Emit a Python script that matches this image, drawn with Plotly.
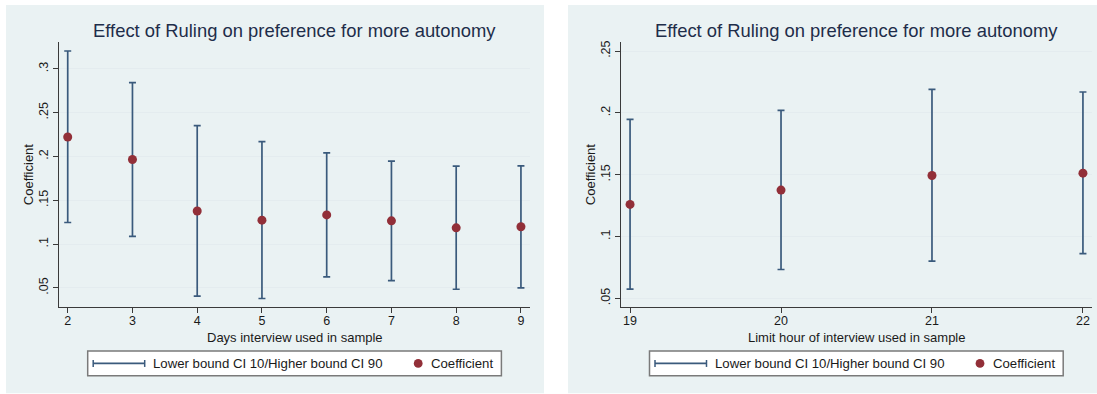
import plotly.graph_objects as go

# ---------------- data ----------------
days = [2, 3, 4, 5, 6, 7, 8, 9]
days_coef = [0.2223, 0.1966, 0.1378, 0.1273, 0.1333, 0.1265, 0.1185, 0.1197]
days_low = [0.1246, 0.1087, 0.0405, 0.0378, 0.0625, 0.0583, 0.0484, 0.0500]
days_high = [0.3205, 0.2844, 0.2352, 0.2170, 0.2041, 0.1947, 0.1890, 0.1892]

hours = [19, 20, 21, 22]
hours_coef = [0.1260, 0.1376, 0.1494, 0.1513]
hours_low = [0.0575, 0.0734, 0.0801, 0.0863]
hours_high = [0.1948, 0.2021, 0.2190, 0.2169]

left_yticks = [0.05, 0.10, 0.15, 0.20, 0.25, 0.30]
left_yticktext = [".05", ".1", ".15", ".2", ".25", ".3"]
right_yticks = [0.05, 0.10, 0.15, 0.20, 0.25]
right_yticktext = [".05", ".1", ".15", ".2", ".25"]

title_text = "Effect of Ruling on preference for more autonomy"
left_xtitle = "Days interview used in sample"
right_xtitle = "Limit hour of interview used in sample"
ytitle = "Coefficient"
legend_ci = "Lower bound CI 10/Higher bound CI 90"
legend_coef = "Coefficient"

# ---------------- style ----------------
W, H = 1097, 394
FONT = "Liberation Sans, Arial, sans-serif"
BG = "#eaf2f3"
GRID = "#e4ecef"
NAVY = "#3a5a7c"
MAROON = "#922f38"
AXIS = "#3a3a3a"
TXT = "#1a1a1a"
TITLE = "#1e2d4a"


def fx(p):
    return p / W


def fy(p):
    return 1 - p / H


fig = go.Figure()


def add_panel(xs, coef, low, high, xa, ya):
    up = [h - c for h, c in zip(high, coef)]
    dn = [c - l for c, l in zip(coef, low)]
    fig.add_trace(go.Scatter(
        x=xs, y=coef, mode="markers", xaxis=xa, yaxis=ya,
        marker=dict(size=9, opacity=0),
        error_y=dict(type="data", symmetric=False, array=up, arrayminus=dn,
                     color=NAVY, thickness=1.7, width=3.5),
        showlegend=False, hoverinfo="skip"))
    fig.add_trace(go.Scatter(
        x=xs, y=coef, mode="markers", xaxis=xa, yaxis=ya,
        marker=dict(size=9, color=MAROON),
        showlegend=False))


add_panel(days, days_coef, days_low, days_high, "x", "y")
add_panel(hours, hours_coef, hours_low, hours_high, "x2", "y2")

axis_common = dict(showline=True, linecolor=AXIS, linewidth=1, ticks="outside",
                   ticklen=5, tickcolor=AXIS, tickwidth=1, zeroline=False,
                   tickfont=dict(family=FONT, size=12.5, color=TXT))

fig.update_layout(
    width=W, height=H, margin=dict(l=0, r=0, t=0, b=0),
    paper_bgcolor="white", plot_bgcolor="white",
    font=dict(family=FONT, color=TXT),
    xaxis=dict(domain=[fx(59.3), fx(530)], anchor="y", range=[1.87, 9.14],
               tickvals=days, showgrid=False, ticklabelstandoff=-3, **axis_common),
    yaxis=dict(domain=[fy(306.3), fy(40.7)], anchor="x", range=[0.0284, 0.3302],
               tickvals=left_yticks, ticktext=left_yticktext, tickangle=-90,
               showgrid=True, gridcolor=GRID, gridwidth=1, **axis_common),
    xaxis2=dict(domain=[fx(621), fx(1092)], anchor="y2", range=[18.94, 22.06],
                tickvals=hours, showgrid=False, ticklabelstandoff=-3, **axis_common),
    yaxis2=dict(domain=[fy(306.3), fy(40.7)], anchor="x2", range=[0.0433, 0.2569],
                tickvals=right_yticks, ticktext=right_yticktext, tickangle=-90,
                showgrid=True, gridcolor=GRID, gridwidth=1, **axis_common),
)

shapes = []
annotations = []

# panel backgrounds
for x0, x1 in [(6, 544), (568, 1097)]:
    shapes.append(dict(type="rect", xref="paper", yref="paper", layer="below",
                       x0=fx(x0), x1=fx(x1), y0=fy(393.3), y1=fy(3),
                       fillcolor=BG, line=dict(width=0)))

panels = [
    dict(cx=294.6, ylab=28.5, xtitle=left_xtitle, leg=87.7),
    dict(cx=856.5, ylab=590.5, xtitle=right_xtitle, leg=649.5),
]

for p in panels:
    annotations.append(dict(text=title_text, xref="paper", yref="paper",
                            x=fx(p["cx"]), y=fy(29), xanchor="center", yanchor="middle",
                            showarrow=False, font=dict(family=FONT, size=18.4, color=TITLE)))
    annotations.append(dict(text=p["xtitle"], xref="paper", yref="paper",
                            x=fx(p["cx"]), y=fy(337.5), xanchor="center", yanchor="middle",
                            showarrow=False, font=dict(family=FONT, size=13, color=TXT)))
    annotations.append(dict(text=ytitle, xref="paper", yref="paper", textangle=-90,
                            x=fx(p["ylab"]), y=fy(173.6), xanchor="center", yanchor="middle",
                            showarrow=False, font=dict(family=FONT, size=13, color=TXT)))
    L = p["leg"]
    ym = 363.3
    shapes.append(dict(type="rect", xref="paper", yref="paper",
                       x0=fx(L), x1=fx(L + 413.7), y0=fy(375.7), y1=fy(350.7),
                       fillcolor="white", line=dict(color="#7a7a7a", width=1.5)))
    shapes.append(dict(type="line", xref="paper", yref="paper",
                       x0=fx(L + 5.5), x1=fx(L + 57), y0=fy(ym), y1=fy(ym),
                       line=dict(color=NAVY, width=1.7)))
    for cxp in (L + 5.5, L + 57):
        shapes.append(dict(type="line", xref="paper", yref="paper",
                           x0=fx(cxp), x1=fx(cxp), y0=fy(ym - 3.5), y1=fy(ym + 3.5),
                           line=dict(color=NAVY, width=1.5)))
    shapes.append(dict(type="circle", xref="paper", yref="paper",
                       x0=fx(L + 330.5 - 4.4), x1=fx(L + 330.5 + 4.4),
                       y0=fy(ym + 4.4), y1=fy(ym - 4.4),
                       fillcolor=MAROON, line=dict(width=0)))
    annotations.append(dict(text=legend_ci, xref="paper", yref="paper",
                            x=fx(L + 63.5), y=fy(ym), xanchor="left", yanchor="middle",
                            showarrow=False, font=dict(family=FONT, size=13.2, color=TXT)))
    annotations.append(dict(text=legend_coef, xref="paper", yref="paper",
                            x=fx(L + 341.5), y=fy(ym), xanchor="left", yanchor="middle",
                            showarrow=False, font=dict(family=FONT, size=13.2, color=TXT)))

fig.update_layout(shapes=shapes, annotations=annotations)

fig.write_html("out.html")
